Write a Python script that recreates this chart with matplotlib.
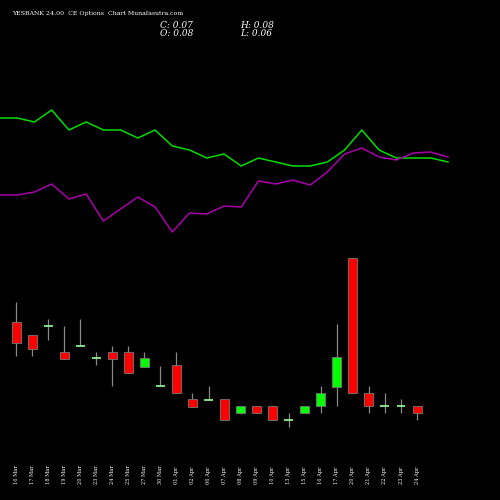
import matplotlib
matplotlib.use("Agg")
import matplotlib.pyplot as plt

dates = ["16 Mar", "17 Mar", "18 Mar", "19 Mar", "20 Mar", "23 Mar", "24 Mar", "25 Mar",
         "27 Mar", "30 Mar", "01 Apr", "02 Apr", "06 Apr", "07 Apr", "08 Apr", "09 Apr",
         "10 Apr", "13 Apr", "15 Apr", "16 Apr", "17 Apr", "20 Apr", "21 Apr", "22 Apr",
         "23 Apr", "24 Apr"]
opens = [0.200, 0.181, 0.194, 0.157, 0.166, 0.149, 0.157, 0.157, 0.136, 0.109,
         0.139, 0.090, 0.089, 0.090, 0.070, 0.080, 0.080, 0.060, 0.070, 0.080,
         0.107, 0.291, 0.099, 0.080, 0.080, 0.080]
closes = [0.170, 0.161, 0.194, 0.147, 0.166, 0.149, 0.147, 0.127, 0.149, 0.109,
          0.099, 0.079, 0.089, 0.060, 0.080, 0.070, 0.060, 0.060, 0.080, 0.099,
          0.150, 0.099, 0.080, 0.080, 0.080, 0.070]
highs = [0.229, 0.181, 0.204, 0.194, 0.204, 0.157, 0.166, 0.166, 0.157, 0.137,
         0.157, 0.099, 0.109, 0.090, 0.080, 0.080, 0.080, 0.070, 0.080, 0.109,
         0.197, 0.291, 0.109, 0.099, 0.090, 0.080]
lows = [0.151, 0.151, 0.174, 0.147, 0.166, 0.139, 0.109, 0.127, 0.136, 0.109,
        0.099, 0.079, 0.089, 0.060, 0.069, 0.070, 0.060, 0.050, 0.070, 0.070,
        0.080, 0.099, 0.070, 0.070, 0.070, 0.060]

# indicator lines, read in screen units (smaller = higher)
green_line = [118, 118, 122, 110, 130, 122, 130, 130, 138, 130, 146, 150, 158, 154,
              166, 158, 162, 166, 166, 162, 150, 130, 150, 158, 158, 158, 162]
purple_line = [195, 195, 192, 184, 199, 194, 221, 209, 197, 207, 232, 213, 214, 206,
               207, 181, 184, 180, 185, 172, 154, 148, 157, 160, 153, 152, 157]

fig = plt.figure(figsize=(5, 5), dpi=100, facecolor="black")

# lines axes
ax_l = fig.add_axes([0, 0, 1, 1])
ax_l.set_facecolor("black")
ax_l.plot(range(len(green_line)), green_line, color="#00dd00", lw=1.1)
ax_l.plot(range(len(purple_line)), purple_line, color="#aa00aa", lw=1.1)
ax_l.set_xlim(0, 500 / 17.23)
ax_l.set_ylim(500, 0)
ax_l.axis("off")

# candles axes
ax = fig.add_axes([0, 0, 1, 1])
ax.patch.set_alpha(0)
label_y = 0.07 + (413 - 484) / 700
for i in range(len(dates)):
    o, c, h, l = opens[i], closes[i], highs[i], lows[i]
    ax.vlines(i, l, h, color="#888888", lw=0.9, zorder=1)
    if abs(o - c) < 0.002:
        ax.hlines(o, i - 0.28, i + 0.28, color="#99ff99", lw=1.2, zorder=2)
    else:
        col = "#ff0000" if c < o else "#00ff00"
        ax.bar(i, abs(o - c), bottom=min(o, c), width=0.56, color=col,
               edgecolor="#777777", linewidth=0.6, zorder=2)
    ax.text(i, label_y, dates[i], color="white", fontsize=3.6,
            family="serif", rotation=90, ha="center", va="bottom")
ax.set_xlim(-1, 500 / 16.04 - 1)
ax.set_ylim(0.07 - 87 / 700, 0.07 + 413 / 700)
ax.axis("off")

fig.text(12 / 500, 1 - 14 / 500, "YESBANK 24.00  CE Options  Chart Munafasutra.com",
         color="white", fontsize=4.5, family="serif", va="center")
fig.text(160 / 500, 1 - 25 / 500, "C: 0.07", color="white", fontsize=6.5,
         family="serif", style="italic", va="center")
fig.text(160 / 500, 1 - 33 / 500, "O: 0.08", color="white", fontsize=6.5,
         family="serif", style="italic", va="center")
fig.text(240 / 500, 1 - 25 / 500, "H: 0.08", color="white", fontsize=6.5,
         family="serif", style="italic", va="center")
fig.text(240 / 500, 1 - 33 / 500, "L: 0.06", color="white", fontsize=6.5,
         family="serif", style="italic", va="center")

fig.savefig("out.png", facecolor="black")
